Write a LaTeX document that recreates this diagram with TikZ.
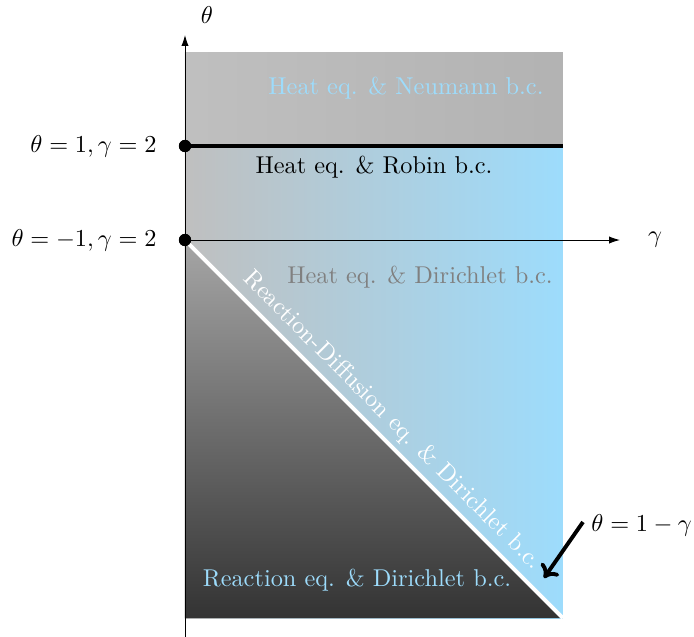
\documentclass[tikz,border=0pt]{standalone}
\usetikzlibrary{arrows.meta}
\definecolor{lblue}{RGB}{157,220,252}
\begin{document}
\begin{tikzpicture}[x=0.411pt,y=-0.411pt,
  lbl/.style={inner sep=0pt,font=\normalsize},
  dotnode/.style={circle,fill=black,inner sep=0pt,minimum size=5pt},
  axisline/.style={line width=0.4pt,-{Latex[length=4.5pt,width=3pt]}}]
\useasboundingbox (0,0) rectangle (694,637);
% regions
\shade[left color=gray!50, right color=gray!60] (185,52) rectangle (563,146);
\shade[left color=gray!50, right color=lblue] (185,146) rectangle (563,618);
\shade[top color=gray!70, bottom color=black!80] (185,240) -- (563,618) -- (185,618) -- cycle;
% coordinates
\coordinate (ybot) at (185,637);
\coordinate (ytop) at (185,35);
\coordinate (xend) at (620,240);
\coordinate (rob1) at (563,146);
\coordinate (diagEnd) at (563,618);
\coordinate (arrS) at (583,522);
\coordinate (arrE) at (544,578);
% dots
\node[dotnode] (p1) at (185,146) {};
\node[dotnode] (p2) at (185,240) {};
% axes
\draw[axisline] (ybot) -- (ytop);
\draw[axisline] (p2.center) -- (xend);
% lines
\draw[line width=2pt] (p1.center) -- (rob1);
\draw[white,line width=1.6pt] (p2.center) -- (diagEnd);
\node[dotnode] at (185,146) {};
\node[dotnode] at (185,240) {};
% arrow
\draw[line width=1.6pt,-{To[length=5pt,width=9pt]}] (arrS) -- (arrE);
% labels
\node[lbl] (th) at (207,15) {$\theta$};
\node[lbl] (ga) at (655,240) {$\gamma$};
\node[lbl,anchor=east] (l1) at (157,146) {$\theta=1,\gamma=2$};
\node[lbl,anchor=east] (l2) at (157,240) {$\theta=-1,\gamma=2$};
\node[lbl,text=lblue] (neu) at (406,88) {Heat eq. \& Neumann b.c.};
\node[lbl] (rob) at (374,167) {Heat eq. \& Robin b.c.};
\node[lbl,text=gray] (dir) at (420,277) {Heat eq. \& Dirichlet b.c.};
\node[lbl,text=white,rotate=-45,anchor=south,inner sep=3pt] (rd) at (379,434) {Reaction-Diffusion eq. \& Dirichlet b.c.};
\node[lbl,text=lblue] (re) at (357,580) {Reaction eq. \& Dirichlet b.c.};
\node[lbl,anchor=west] (eq) at (591,525) {$\theta=1-\gamma$};
\end{tikzpicture}
\end{document}
